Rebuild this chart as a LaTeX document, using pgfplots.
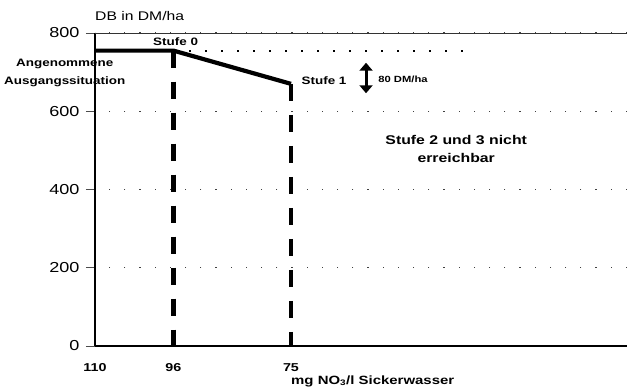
\documentclass[border=0pt]{standalone}
\usepackage{fontspec}
\setmainfont[FakeStretch=1.25]{Liberation Sans}
\usepackage{pgfplots}
\pgfplotsset{compat=1.18}
\usetikzlibrary{arrows.meta}
\begin{document}
\begin{tikzpicture}
\useasboundingbox (-95bp,-46bp) rectangle (532bp,346bp);
\begin{axis}[
  at={(0,0)}, anchor=south west,
  x=5.6bp, y=0.39125bp,
  x dir=reverse,
  xmin=15, xmax=110, ymin=0, ymax=800,
  axis lines*=left,
  axis line style={line width=1.3bp},
  clip=false,
  xtick={110,96,75},
  xticklabels={110,96,75},
  xtick style={draw=none},
  xticklabel style={font=\fontsize{11.5}{13}\selectfont\bfseries, anchor=center, yshift=-13bp},
  ytick={0,200,400,600,800},
  ytick style={line width=0.6bp, black!70},
  tick align=outside,
  major tick length=9bp,
  yticklabel style={font=\fontsize{14.5}{16}\selectfont, anchor=east, xshift=-3bp},
  /pgf/number format/assume math mode=true,
  ymajorgrids,
  grid style={black!75, line width=1.1bp, dash pattern=on 1.2bp off 14bp},
]
% top border
\draw[line width=0.9bp, black!80] (axis cs:110,800) -- (axis cs:15,800);
% dotted reference line
\addplot[black, line width=1.8bp, dash pattern=on 2bp off 14bp] coordinates {(96,755) (42.5,755)};
% dashed vertical lines
\addplot[black, line width=4.5bp, dash pattern=on 17bp off 14bp] coordinates {(96,755) (96,0)};
\addplot[black, line width=4.5bp, dash pattern=on 17bp off 14bp] coordinates {(75,670) (75,0)};
% main line
\addplot[black, line width=4.2bp, line join=miter] coordinates {(110,755) (96,755) (75,670)};
% arrow
\draw[line width=3bp, {Triangle[length=8bp,width=13bp]}-{Triangle[length=8bp,width=13bp]}] (axis cs:61.6,724) -- (axis cs:61.6,646);
% texts
\node[anchor=west, inner sep=0pt, font=\fontsize{12.6}{14}\selectfont] at (axis cs:110,843) {DB in DM/ha};
\node[inner sep=0pt, font=\fontsize{10.8}{12}\selectfont\bfseries] at (axis cs:95.6,777) {Stufe 0};
\node[inner sep=0pt, align=center, font=\fontsize{10.8}{18}\selectfont\bfseries] at (axis cs:115.4,698) {Angenommene\\Ausgangssituation};
\node[inner sep=0pt, font=\fontsize{10.8}{12}\selectfont\bfseries] at (axis cs:69.1,677) {Stufe 1};
\node[inner sep=0pt, font=\fontsize{9}{10}\selectfont\bfseries] at (axis cs:55,682) {80 DM/ha};
\node[inner sep=0pt, align=center, font=\fontsize{12.7}{18}\selectfont\bfseries] at (axis cs:45.5,504) {Stufe 2 und 3 nicht\\erreichbar};
\node[anchor=west, inner sep=0pt, font=\fontsize{12}{14}\selectfont\bfseries] at (axis cs:75,-89.5) {mg NO\textsubscript{3}/l Sickerwasser};
\end{axis}
\end{tikzpicture}
\end{document}
